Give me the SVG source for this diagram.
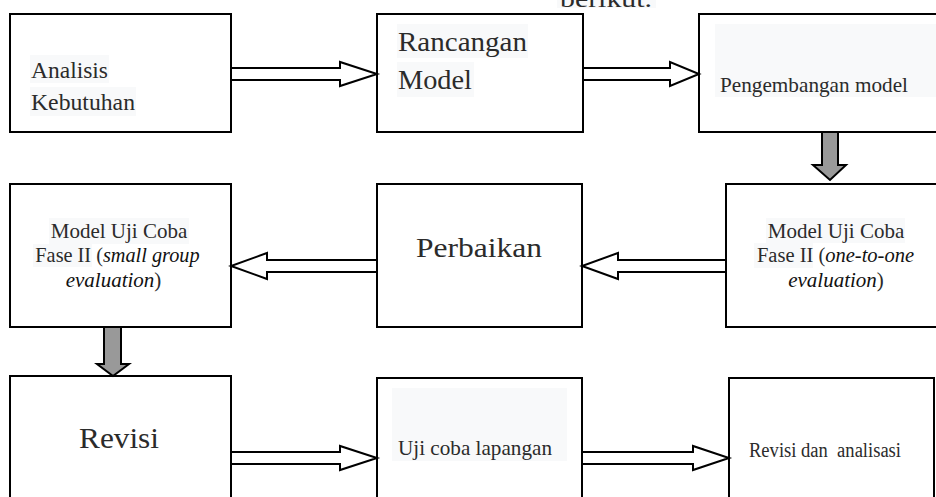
<svg xmlns="http://www.w3.org/2000/svg" width="936" height="497" viewBox="0 0 936 497">
<style>
.box{fill:#fff;stroke:#000;stroke-width:2}
.bg{fill:#f8f9fa}
.t{font-family:"Liberation Serif","Times New Roman",serif;fill:#2b2b2b}
.c{text-anchor:middle}
.i{font-style:italic;fill:#111}
.arr{fill:#fff;stroke:#000;stroke-width:2;stroke-linejoin:miter}
.dn{fill:#999;stroke:#000;stroke-width:2;stroke-linejoin:miter}
</style>
<rect width="936" height="497" fill="#fff"/>
<g id="caption">
<rect class="bg" x="557" y="0" width="99" height="8"/>
<text class="t" x="560" y="7" font-size="24" textLength="92" lengthAdjust="spacingAndGlyphs">berikut.</text>
</g>
<g id="n1">
<rect class="box" x="10" y="14" width="221" height="118"/>
<rect class="bg" x="30" y="55" width="79" height="28"/>
<rect class="bg" x="30" y="87" width="106" height="29"/>
<text class="t" x="31" y="78" font-size="24" textLength="77" lengthAdjust="spacingAndGlyphs">Analisis</text>
<text class="t" x="31" y="110" font-size="24" textLength="104" lengthAdjust="spacingAndGlyphs">Kebutuhan</text>
</g>
<g id="n2">
<rect class="box" x="377" y="14" width="206" height="118"/>
<rect class="bg" x="397" y="24" width="131" height="34"/>
<rect class="bg" x="397" y="62" width="77" height="35"/>
<text class="t" x="398" y="51" font-size="28" textLength="129" lengthAdjust="spacingAndGlyphs">Rancangan</text>
<text class="t" x="398" y="89" font-size="28" textLength="74" lengthAdjust="spacingAndGlyphs">Model</text>
</g>
<g id="n3">
<rect class="box" x="699" y="14" width="260" height="118"/>
<rect class="bg" x="715" y="24" width="225" height="73"/>
<text class="t" x="720" y="92" font-size="21" textLength="188" lengthAdjust="spacingAndGlyphs">Pengembangan model</text>
</g>
<g id="n4">
<rect class="box" x="10" y="184" width="221" height="143"/>
<rect class="bg" x="49" y="218" width="140" height="26"/>
<rect class="bg" x="33" y="244" width="59" height="23"/>
<text class="t c" x="119" y="238" font-size="21">Model Uji Coba</text>
<text class="t c" x="117.5" y="262" font-size="20.3">Fase II (<tspan class="i">small group</tspan></text>
<text class="t c" x="113.5" y="287" font-size="21"><tspan class="i">evaluation</tspan>)</text>
</g>
<g id="n5">
<rect class="box" x="377" y="184" width="205" height="143"/>
<text class="t" x="416" y="257" font-size="28" textLength="126" lengthAdjust="spacingAndGlyphs">Perbaikan</text>
</g>
<g id="n6">
<rect class="box" x="726" y="184" width="230" height="143"/>
<rect class="bg" x="766" y="218" width="139" height="25"/>
<rect class="bg" x="754" y="243" width="59" height="25"/>
<text class="t c" x="836" y="238" font-size="21">Model Uji Coba</text>
<text class="t c" x="835.5" y="262" font-size="20.5">Fase II (<tspan class="i">one-to-one</tspan></text>
<text class="t c" x="836" y="287" font-size="21"><tspan class="i">evaluation</tspan>)</text>
</g>
<g id="n7">
<rect class="box" x="10" y="376" width="221" height="140"/>
<text class="t" x="79" y="448" font-size="30" textLength="80" lengthAdjust="spacingAndGlyphs">Revisi</text>
</g>
<g id="n8">
<rect class="box" x="377" y="378" width="205" height="140"/>
<rect class="bg" x="392" y="388" width="175" height="73"/>
<text class="t" x="398" y="455" font-size="21" textLength="154" lengthAdjust="spacingAndGlyphs">Uji coba lapangan</text>
</g>
<g id="n9">
<rect class="box" x="729" y="378" width="205" height="140"/>
<text class="t" x="749" y="457" font-size="20" textLength="152" lengthAdjust="spacingAndGlyphs" xml:space="preserve" style="white-space:pre">Revisi dan  analisasi</text>
</g>
<g id="connectors">
<path class="arr" d="M231,68 H340 V62 L377,74 L340,86 V80 H231 Z"/>
<path class="arr" d="M583,68 H670 V62 L699,74 L670,86 V80 H583 Z"/>
<path class="dn" d="M822,132 V165 H813 L830,180 L846,165 H838 V132 Z"/>
<path class="arr" d="M726,260 H618 V253 L582,266 L618,279 V272 H726 Z"/>
<path class="arr" d="M377,260 H267 V253 L231,266 L267,279 V272 H377 Z"/>
<path class="dn" d="M104,327 V364 H97 L113,376 L129,364 H121 V327 Z"/>
<path class="arr" d="M231,452 H340 V446 L377,458 L340,470 V464 H231 Z"/>
<path class="arr" d="M582,452 H693 V446 L729,458 L693,470 V464 H582 Z"/>
</g>
</svg>
